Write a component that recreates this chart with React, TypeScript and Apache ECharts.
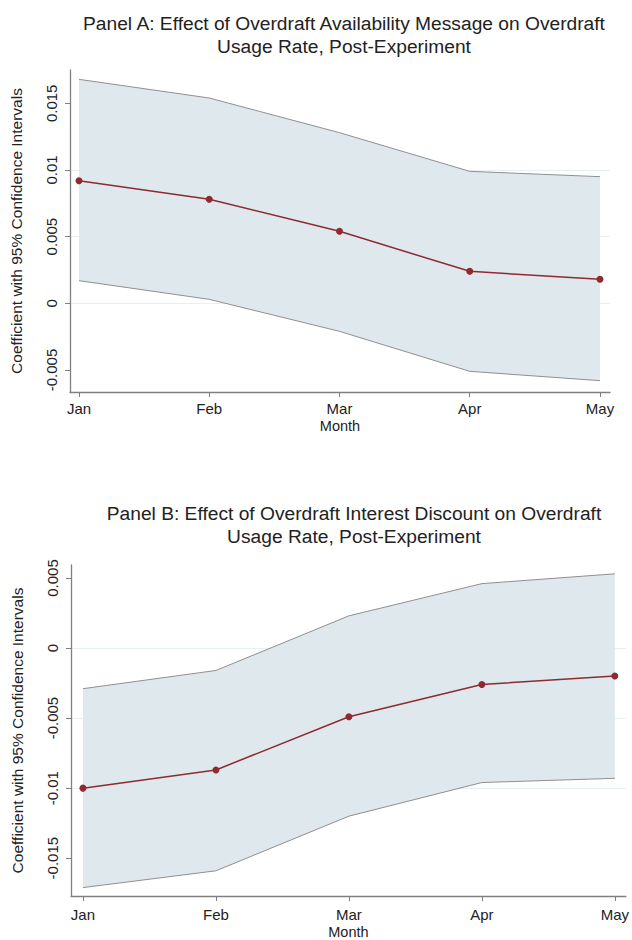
import React, { useEffect, useRef } from "react";
import * as echarts from "echarts";

const months = ["Jan", "Feb", "Mar", "Apr", "May"];
const monthIdx = [1, 2, 3, 4, 5];

const titleA = "Panel A: Effect of Overdraft Availability Message on Overdraft\nUsage Rate, Post-Experiment";
const coefA = [0.0092, 0.0078, 0.0054, 0.0024, 0.0018];
const upperA = [0.0168, 0.0154, 0.0128, 0.0099, 0.0095];
const lowerA = [0.0017, 0.0003, -0.0021, -0.0051, -0.0058];
const yTicksA = [-0.005, 0, 0.005, 0.01, 0.015];

const titleB = "Panel B: Effect of Overdraft Interest Discount on Overdraft\nUsage Rate, Post-Experiment";
const coefB = [-0.01, -0.0087, -0.0049, -0.0026, -0.002];
const upperB = [-0.0029, -0.0016, 0.0023, 0.0046, 0.0053];
const lowerB = [-0.0171, -0.0159, -0.012, -0.0096, -0.0093];
const yTicksB = [-0.015, -0.01, -0.005, 0, 0.005];

const yName = "Coefficient with 95% Confidence Intervals";
const xName = "Month";

const FONT = "Liberation Sans, Arial, Helvetica, sans-serif";
const TXT = "#222222";
const AXIS = "#808080";
const GRID = "#e6eff1";
const BAND = "#dfe8ed";
const BAND_LINE = "#8f8f8f";
const RED = "#8e2a30";

const fmtY = (v: number) => String(+(+v).toFixed(4));

function panel(i: number, lower: number[], upper: number[], coef: number[]) {
  const rows = monthIdx.map((m, k) => [m, lower[k], upper[k]]);
  return [
    {
      type: "custom",
      xAxisIndex: i,
      yAxisIndex: i,
      data: rows,
      encode: { x: 0, y: [1, 2] },
      z: 1,
      renderItem: (params: any, api: any) => {
        if (params.dataIndex !== 0) return null;
        const top = rows.map((r) => api.coord([r[0], r[2]]));
        const bot = rows.map((r) => api.coord([r[0], r[1]])).reverse();
        return {
          type: "polygon",
          shape: { points: top.concat(bot) },
          style: { fill: BAND, stroke: "none" },
          silent: true,
        };
      },
    },
    {
      type: "line",
      xAxisIndex: i,
      yAxisIndex: i,
      symbol: "none",
      data: monthIdx.map((m, k) => [m, lower[k]]),
      lineStyle: { color: BAND_LINE, width: 1 },
      z: 2,
    },
    {
      type: "line",
      xAxisIndex: i,
      yAxisIndex: i,
      symbol: "none",
      data: monthIdx.map((m, k) => [m, upper[k]]),
      lineStyle: { color: BAND_LINE, width: 1 },
      z: 2,
    },
    {
      type: "line",
      xAxisIndex: i,
      yAxisIndex: i,
      symbol: "circle",
      symbolSize: 7,
      data: monthIdx.map((m, k) => [m, coef[k]]),
      itemStyle: { color: RED },
      lineStyle: { color: RED, width: 1.5 },
      z: 4,
    },
  ];
}

function xAxis(i: number, min: number, max: number, margin: number, nameGap: number) {
  return {
    type: "value",
    gridIndex: i,
    min,
    max,
    minInterval: 1,
    maxInterval: 1,
    name: xName,
    nameLocation: "middle",
    nameGap,
    nameTextStyle: { color: TXT, fontSize: 14.5, fontFamily: FONT },
    axisLine: { show: true, onZero: false, lineStyle: { color: AXIS, width: 1.3 } },
    axisTick: { show: true, length: 5, lineStyle: { color: AXIS }, customValues: monthIdx },
    axisLabel: {
      color: TXT,
      fontSize: 15,
      fontFamily: FONT,
      margin,
      customValues: monthIdx,
      formatter: (v: number) => months[Math.round(v) - 1] ?? "",
    },
    splitLine: { show: false },
  };
}

function yAxis(i: number, min: number, max: number, ticks: number[]) {
  return {
    type: "value",
    gridIndex: i,
    min,
    max,
    minInterval: 0.005,
    maxInterval: 0.005,
    name: yName,
    nameLocation: "middle",
    nameGap: 46,
    nameRotate: 90,
    nameTextStyle: { color: TXT, fontSize: 15.5, fontFamily: FONT },
    axisLine: { show: true, onZero: false, lineStyle: { color: AXIS, width: 1.3 } },
    axisTick: { show: true, length: 5, lineStyle: { color: AXIS }, customValues: ticks },
    axisLabel: {
      color: TXT,
      fontSize: 15,
      fontFamily: FONT,
      rotate: 90,
      margin: 11,
      customValues: ticks,
      formatter: (v: number) => fmtY(v),
    },
    splitLine: {
      show: true,
      showMinLine: false,
      showMaxLine: false,
      lineStyle: { color: GRID, width: 1 },
    },
  };
}

export default function App() {
  const ref = useRef<HTMLDivElement>(null);
  useEffect(() => {
    if (!ref.current) return;
    const chart = echarts.init(ref.current, undefined, { renderer: "svg" });
    const titleStyle = { color: TXT, fontSize: 19.2, fontWeight: "normal", fontFamily: FONT, lineHeight: 23 };
    chart.setOption({
      animation: false,
      backgroundColor: "#ffffff",
      title: [
        { text: titleA, left: 339, top: 7, textAlign: "center", textStyle: titleStyle },
        { text: titleB, left: 349, top: 497, textAlign: "center", textStyle: titleStyle },
      ],
      grid: [
        { left: 70, right: 22, top: 70, bottom: 548, containLabel: false },
        { left: 71, right: 5, top: 565, bottom: 43, containLabel: false },
      ],
      xAxis: [xAxis(0, 0.931, 5.077, 9, 26), xAxis(1, 0.91, 5.083, 11, 28)],
      yAxis: [yAxis(0, -0.00665, 0.0175, yTicksA), yAxis(1, -0.0177, 0.00593, yTicksB)],
      series: [...panel(0, lowerA, upperA, coefA), ...panel(1, lowerB, upperB, coefB)],
    });
    return () => chart.dispose();
  }, []);
  return (
    <div ref={ref} style={{ position: "absolute", left: 0, top: 0, width: 632, height: 940 }} />
  );
}
